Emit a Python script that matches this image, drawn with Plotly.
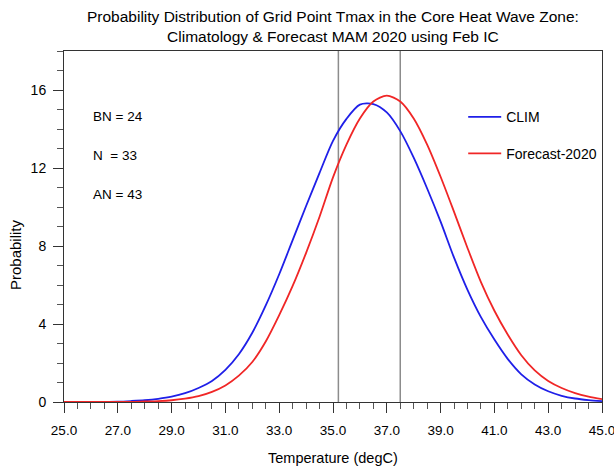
import plotly.graph_objects as go

# Temperature grid (degC)
temps = [25.0, 25.5, 26.0, 26.5, 27.0, 27.5, 28.0, 28.5, 29.0, 29.5,
         30.0, 30.5, 31.0, 31.5, 32.0, 32.5, 33.0, 33.5, 34.0, 34.5,
         35.0, 35.5, 36.0, 36.5, 37.0, 37.5, 38.0, 38.5, 39.0, 39.5,
         40.0, 40.5, 41.0, 41.5, 42.0, 42.5, 43.0, 43.5, 44.0, 44.5, 45.0]

clim = [0.00, 0.00, 0.01, 0.01, 0.02, 0.05, 0.09, 0.16, 0.27, 0.45,
        0.72, 1.08, 1.65, 2.45, 3.55, 4.95, 6.55, 8.30, 10.05, 11.75,
        13.39, 14.52, 15.25, 15.28, 14.85, 13.89, 12.53, 10.95, 9.25, 7.40,
        5.75, 4.35, 3.20, 2.20, 1.42, 0.90, 0.55, 0.32, 0.18, 0.10, 0.05]

fcst = [0.00, 0.00, 0.00, 0.00, 0.01, 0.01, 0.03, 0.05, 0.09, 0.17,
        0.30, 0.52, 0.85, 1.35, 2.05, 3.10, 4.45, 5.95, 7.65, 9.50,
        11.52, 13.20, 14.54, 15.41, 15.71, 15.41, 14.54, 13.20, 11.55, 9.75,
        7.90, 6.15, 4.68, 3.45, 2.40, 1.62, 1.08, 0.72, 0.46, 0.28, 0.15]

tercile_bounds = [35.2, 37.5]
stats_labels = ["BN = 24", "N  = 33", "AN = 43"]
x_ticks = [25, 27, 29, 31, 33, 35, 37, 39, 41, 43, 45]
y_ticks = [0, 4, 8, 12, 16]
title_text = ("Probability Distribution of Grid Point Tmax in the Core Heat Wave Zone:<br>"
              "Climatology & Forecast MAM 2020 using Feb IC")

FONT = "Liberation Sans, Arial, Helvetica, sans-serif"

fig = go.Figure()
fig.add_trace(go.Scatter(x=temps, y=clim, mode="lines", name="CLIM",
                         line=dict(color="#1f1fe8", width=1.8, shape="spline", smoothing=0.8),
                         legend="legend"))
fig.add_trace(go.Scatter(x=temps, y=fcst, mode="lines", name="Forecast-2020",
                         line=dict(color="#f02626", width=1.8, shape="spline", smoothing=0.8),
                         legend="legend2"))

for xb in tercile_bounds:
    fig.add_vline(x=xb, line=dict(color="#8c8c8c", width=1.5), layer="below")

for i, s in enumerate(stats_labels):
    fig.add_annotation(text=s, xref="paper", yref="paper", x=0.05, y=[0.812, 0.701, 0.590][i],
                       xanchor="left", yanchor="middle", showarrow=False,
                       font=dict(family=FONT, size=13.5, color="black"))

# title
fig.add_annotation(text=title_text, xref="paper", yref="paper", x=0.5, y=1.012,
                   xanchor="center", yanchor="bottom", showarrow=False, align="center",
                   font=dict(family=FONT, size=15.5, color="black"))
# axis titles
fig.add_annotation(text="Temperature (degC)", xref="paper", yref="paper", x=0.5, y=-0.16,
                   xanchor="center", yanchor="middle", showarrow=False,
                   font=dict(family=FONT, size=14.5, color="black"))
fig.add_annotation(text="Probability", xref="paper", yref="paper", x=-0.089, y=0.419,
                   xanchor="center", yanchor="middle", showarrow=False, textangle=-90,
                   font=dict(family=FONT, size=15, color="black"))

fig.update_layout(
    width=614, height=470,
    margin=dict(l=64, r=12, t=51, b=68, autoexpand=False),
    paper_bgcolor="white", plot_bgcolor="white",
    font=dict(family=FONT, size=13.5, color="black"),
    legend=dict(x=0.742, y=0.857, xanchor="left", yanchor="top", bgcolor="rgba(0,0,0,0)",
                font=dict(family=FONT, size=14), itemwidth=33),
    legend2=dict(x=0.742, y=0.753, xanchor="left", yanchor="top", bgcolor="rgba(0,0,0,0)",
                 font=dict(family=FONT, size=14), itemwidth=33),
    showlegend=True,
)

fig.update_xaxes(range=[25, 45], tickvals=x_ticks, ticktext=[f"{v:.1f}" for v in x_ticks],
                 ticks="outside", ticklen=10, tickwidth=1, tickcolor="#333",
                 minor=dict(dtick=0.5, ticks="outside", ticklen=6, tickwidth=1, tickcolor="#555"),
                 showline=True, linecolor="#333", linewidth=1, mirror=True,
                 showgrid=False, zeroline=False, automargin=False, ticklabelstandoff=6,
                 ticklabeloverflow="allow",
                 tickfont=dict(family=FONT, size=13.5))
fig.update_yaxes(range=[0, 18], tickvals=y_ticks,
                 ticks="outside", ticklen=10, tickwidth=1, tickcolor="#333",
                 minor=dict(dtick=1, ticks="outside", ticklen=6, tickwidth=1, tickcolor="#555"),
                 showline=True, linecolor="#333", linewidth=1, mirror=True,
                 showgrid=False, zeroline=False, automargin=False, ticklabelstandoff=4,
                 tickfont=dict(family=FONT, size=14))

fig.write_html("out.html", config={"displayModeBar": False},
               post_script="document.body.style.margin='0';")
